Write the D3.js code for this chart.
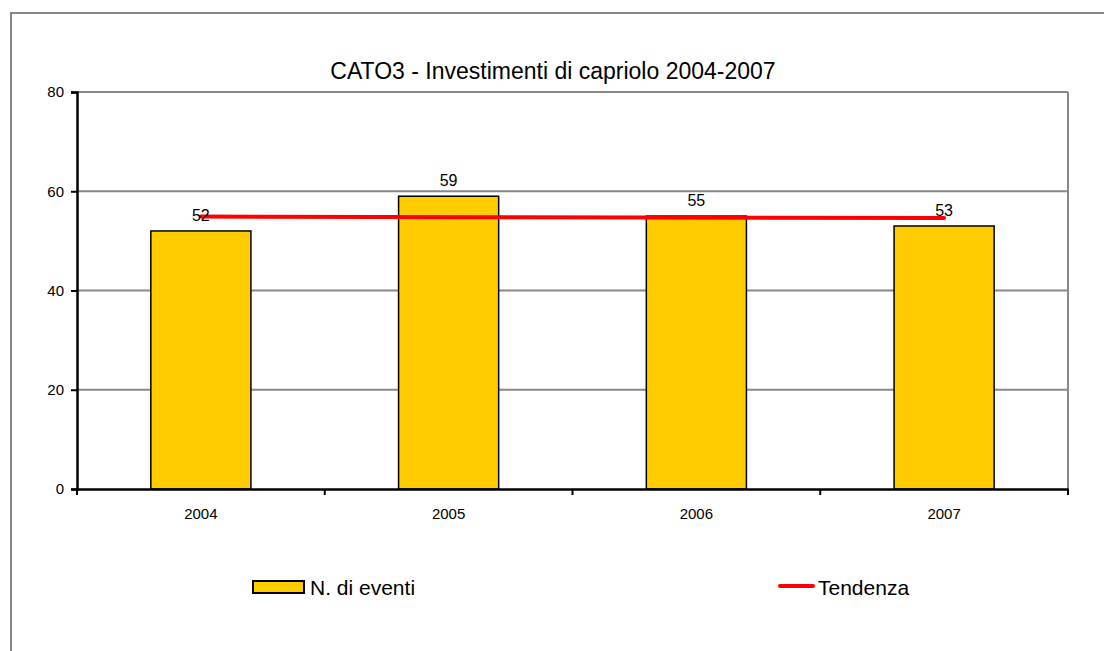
<!DOCTYPE html>
<html>
<head>
<meta charset="utf-8">
<script src="https://cdn.jsdelivr.net/npm/d3@7"></script>
<style>
  body { margin: 0; background: #fff; }
  text { font-family: "Liberation Sans", Arial, sans-serif; fill: #000; }
</style>
</head>
<body>
<div id="chart"></div>
<script>
// chart data
var years = ["2004", "2005", "2006", "2007"];
var eventi = [52, 59, 55, 53];
// linear trend at first and last year
var trendYears = ["2004", "2007"];
var trendValues = [54.9, 54.6];
var yTicks = [0, 20, 40, 60, 80];

var width = 1104;
var height = 651;
var plotLeft = 77, plotRight = 1068, plotTop = 92, plotBottom = 489;

var svg = d3.select("#chart")
  .append("svg")
  .attr("width", width)
  .attr("height", height);

// outer frame (bottom and right run off the picture)
svg.append("rect")
  .attr("x", 11)
  .attr("y", 13)
  .attr("width", 1110)
  .attr("height", 660)
  .attr("fill", "none")
  .attr("stroke", "#888")
  .attr("stroke-width", 2);

var xScale = d3.scaleBand()
  .domain(years)
  .range([plotLeft, plotRight]);

var yScale = d3.scaleLinear()
  .domain([0, 80])
  .range([plotBottom, plotTop]);

// gridlines
svg.append("g")
  .selectAll("line")
  .data(yTicks.filter(d => d > 0))
  .enter()
  .append("line")
  .attr("x1", plotLeft)
  .attr("x2", plotRight)
  .attr("y1", d => yScale(d))
  .attr("y2", d => yScale(d))
  .attr("stroke", "#888")
  .attr("stroke-width", 2);

// right border of plot
svg.append("line")
  .attr("x1", plotRight)
  .attr("x2", plotRight)
  .attr("y1", plotTop)
  .attr("y2", plotBottom)
  .attr("stroke", "#888")
  .attr("stroke-width", 2);

// bars
var barW = xScale.bandwidth() * 0.404;
svg.append("g")
  .selectAll("rect")
  .data(eventi)
  .enter()
  .append("rect")
  .attr("x", (d, i) => xScale(years[i]) + xScale.bandwidth() / 2 - barW / 2)
  .attr("y", d => yScale(d))
  .attr("width", barW)
  .attr("height", d => plotBottom - yScale(d))
  .attr("fill", "#FFCC00")
  .attr("stroke", "#000")
  .attr("stroke-width", 1.5);

// trend line
var line = d3.line()
  .x((d, i) => xScale(trendYears[i]) + xScale.bandwidth() / 2)
  .y(d => yScale(d));

svg.append("path")
  .datum(trendValues)
  .attr("d", line)
  .attr("fill", "none")
  .attr("stroke", "#FF0000")
  .attr("stroke-width", 4)
  .attr("stroke-linecap", "round");

// value labels
svg.append("g")
  .selectAll("text")
  .data(eventi)
  .enter()
  .append("text")
  .attr("x", (d, i) => xScale(years[i]) + xScale.bandwidth() / 2)
  .attr("y", d => yScale(d) - 10)
  .attr("text-anchor", "middle")
  .style("font-size", "16px")
  .text(d => d);

// y axis
var leftAxis = d3.axisLeft(yScale)
  .tickValues(yTicks)
  .tickSize(6)
  .tickPadding(7);

var yAxis = svg.append("g")
  .attr("transform", `translate(${plotLeft}, 0)`)
  .call(leftAxis);
yAxis.select(".domain").attr("stroke", "#000").attr("stroke-width", 2.5);
yAxis.selectAll(".tick line").attr("stroke", "#000").attr("stroke-width", 2);
yAxis.selectAll(".tick text").style("font-size", "15px").style("font-family", "Liberation Sans, Arial, sans-serif");

// x axis
var bottomAxis = d3.axisBottom(xScale)
  .tickSize(0)
  .tickPadding(19);

var xAxis = svg.append("g")
  .attr("transform", `translate(0, ${plotBottom})`)
  .call(bottomAxis);
xAxis.select(".domain").attr("stroke", "#000").attr("stroke-width", 2.5);
xAxis.selectAll(".tick text").style("font-size", "15px").style("font-family", "Liberation Sans, Arial, sans-serif");

// category boundary ticks
xAxis.append("g")
  .selectAll("line")
  .data(years.concat(["end"]))
  .enter()
  .append("line")
  .attr("x1", (d, i) => i < years.length ? xScale(d) : plotRight)
  .attr("x2", (d, i) => i < years.length ? xScale(d) : plotRight)
  .attr("y1", 0)
  .attr("y2", 6)
  .attr("stroke", "#000")
  .attr("stroke-width", 2);

// title
svg.append("text")
  .attr("x", 553)
  .attr("y", 79)
  .attr("text-anchor", "middle")
  .style("font-size", "23px")
  .text("CATO3 - Investimenti di capriolo 2004-2007");

// legend
var legend = svg.append("g");
legend.append("rect")
  .attr("x", 253)
  .attr("y", 581)
  .attr("width", 51)
  .attr("height", 12)
  .attr("fill", "#FFCC00")
  .attr("stroke", "#000")
  .attr("stroke-width", 2);
legend.append("text")
  .attr("x", 310)
  .attr("y", 595)
  .style("font-size", "21px")
  .text("N. di eventi");

legend.append("line")
  .attr("x1", 780)
  .attr("x2", 813)
  .attr("y1", 586)
  .attr("y2", 586)
  .attr("stroke", "#FF0000")
  .attr("stroke-width", 4)
  .attr("stroke-linecap", "round");
legend.append("text")
  .attr("x", 818)
  .attr("y", 595)
  .style("font-size", "21px")
  .text("Tendenza");
</script>
</body>
</html>
